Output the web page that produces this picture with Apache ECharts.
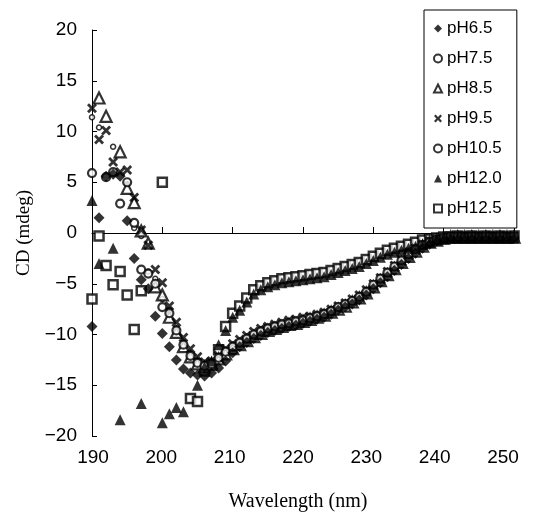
<!DOCTYPE html>
<html>
<head>
<meta charset="utf-8">
<script src="https://cdn.jsdelivr.net/npm/echarts@6/dist/echarts.min.js"></script>
<style>html,body{margin:0;padding:0;background:#fff;}#c{width:535px;height:517px;}</style>
</head>
<body>
<div id="c"></div>
<script>
// Wavelength (nm), 1 nm steps
const wavelengths = [
  190,191,192,193,194,195,196,197,198,199,
  200,201,202,203,204,205,206,207,208,209,
  210,211,212,213,214,215,216,217,218,219,
  220,221,222,223,224,225,226,227,228,229,
  230,231,232,233,234,235,236,237,238,239,
  240,241,242,243,244,245,246,247,248,249,
  250
];
const seriesNames = ['pH6.5','pH7.5','pH8.5','pH9.5','pH10.5','pH12.0','pH12.5'];
const yTicks = [-20,-15,-10,-5,0,5,10,15,20];
const xTicks = [190,200,210,220,230,240,250];

const ph65 = [
  -9.2,1.5,5.6,5.8,5.6,1.2,-2.5,-4.6,-5.5,-8.2,
  -9.9,-11.2,-12.5,-13.4,-13.8,-14.0,-14.1,-13.8,-13.3,-12.6,
  -11.8,-11.2,-10.8,-10.4,-10.1,-9.8,-9.6,-9.4,-9.2,-9.1,
  -8.9,-8.7,-8.5,-8.3,-8.0,-7.6,-7.3,-7.0,-6.6,-6.1,
  -5.5,-4.9,-4.3,-3.7,-3.1,-2.5,-2.0,-1.5,-1.1,-0.8,
  -0.6,-0.5,-0.5,-0.4,-0.5,-0.4,-0.5,-0.4,-0.5,-0.4,
  -0.5
];
const ph75 = [
  11.4,10.4,null,8.5,null,4.8,0.5,-0.3,-3.8,-4.5,
  -6.5,-7.6,-9.4,-10.8,-11.9,-12.6,-13.0,-12.8,-12.2,-11.6,
  -11.1,-10.7,-10.3,-9.9,-9.6,-9.3,-9.1,-8.9,-8.8,-8.6,
  -8.5,-8.3,-8.1,-7.9,-7.6,-7.2,-6.9,-6.6,-6.2,-5.7,
  -5.0,-4.4,-3.8,-3.2,-2.6,-2.0,-1.5,-1.1,-0.8,-0.6,
  -0.5,-0.4,-0.4,-0.3,-0.3,-0.3,-0.3,-0.3,-0.3,-0.3,
  -0.3
];
const ph85 = [
  null,13.3,11.5,null,8.0,4.4,3.0,0.2,-1.0,-5.3,
  -6.1,-8.3,-9.8,-11.2,-12.2,-12.9,-13.2,-12.9,-12.4,-11.9,
  -11.4,-11.0,-10.6,-10.2,-9.9,-9.6,-9.4,-9.2,-9.0,-8.9,
  -8.7,-8.5,-8.3,-8.1,-7.8,-7.5,-7.2,-6.8,-6.4,-5.9,
  -5.3,-4.7,-4.1,-3.5,-2.9,-2.3,-1.8,-1.3,-0.9,-0.7,
  -0.5,-0.4,-0.4,-0.4,-0.4,-0.4,-0.4,-0.4,-0.4,-0.4,
  -0.4
];
const ph95 = [
  12.3,9.2,10.1,7.0,6.0,6.2,3.5,0.3,-1.2,-3.6,
  -4.9,-7.2,-8.8,-10.3,-11.4,-12.2,-12.7,-12.6,-12.1,-11.4,
  -10.9,-10.5,-10.1,-9.7,-9.4,-9.2,-9.0,-8.8,-8.6,-8.5,
  -8.3,-8.2,-8.0,-7.8,-7.5,-7.2,-6.9,-6.5,-6.1,-5.6,
  -5.0,-4.4,-3.8,-3.2,-2.6,-2.0,-1.5,-1.1,-0.8,-0.6,
  -0.5,-0.4,-0.3,-0.4,-0.3,-0.4,-0.3,-0.4,-0.3,-0.4,
  -0.3
];
const ph105 = [
  5.9,null,5.5,6.0,2.9,5.0,1.0,-3.6,-4.0,-5.0,
  -7.3,-7.9,-9.6,-11.0,-12.1,-12.8,-13.1,-12.9,-12.3,-11.7,
  -11.2,-10.8,-10.4,-10.0,-9.7,-9.4,-9.2,-9.0,-8.9,-8.7,
  -8.6,-8.4,-8.2,-8.0,-7.7,-7.3,-7.0,-6.7,-6.3,-5.8,
  -5.1,-4.5,-3.9,-3.3,-2.7,-2.1,-1.6,-1.2,-0.9,-0.7,
  -0.5,-0.4,-0.4,-0.4,-0.4,-0.4,-0.4,-0.4,-0.4,-0.4,
  -0.4
];
const ph120 = [
  3.2,-3.0,null,-1.5,-18.4,null,null,-16.8,null,null,
  -18.7,-17.8,-17.2,-17.6,null,-15.0,-13.2,-12.6,-11.0,-9.6,
  -8.3,-7.6,-6.8,-6.0,-5.6,-5.3,-5.1,-4.9,-4.8,-4.7,
  -4.6,-4.5,-4.4,-4.3,-4.1,-3.9,-3.7,-3.5,-3.3,-3.0,
  -2.7,-2.4,-2.1,-1.9,-1.7,-1.5,-1.3,-1.1,-0.9,-0.7,
  -0.6,-0.5,-0.5,-0.5,-0.5,-0.5,-0.5,-0.5,-0.5,-0.5,
  -0.5
];
const ph125 = [
  -6.5,-0.3,-3.2,-5.1,-3.8,-6.1,-9.5,-5.7,null,null,
  5.0,null,null,null,-16.3,-16.6,-13.6,-13.0,-11.5,-9.2,
  -7.9,-7.2,-6.4,-5.6,-5.2,-4.9,-4.7,-4.5,-4.4,-4.3,
  -4.2,-4.1,-4.0,-3.9,-3.7,-3.5,-3.3,-3.1,-2.9,-2.6,
  -2.3,-2.0,-1.7,-1.5,-1.3,-1.1,-0.9,-0.7,-0.6,-0.5,
  -0.4,-0.4,-0.3,-0.4,-0.3,-0.4,-0.3,-0.4,-0.3,-0.4,
  -0.3
];

const values = [ph65, ph75, ph85, ph95, ph105, ph120, ph125];

const crossPath = 'path://M0,2L2,0L5,3L8,0L10,2L7,5L10,8L8,10L5,7L2,10L0,8L3,5Z';
const filled = {color:'#000', borderColor:'#000', borderWidth:0};
const open = {color:'#fff', borderColor:'#000', borderWidth:2.2};
const markerStyles = [
  {symbol:'diamond', size:11, style:filled, z:4},
  {symbol:'circle', size:5, style:{color:'#fff', borderColor:'#000', borderWidth:1.5}, z:3},
  {symbol:'triangle', size:11, style:open, z:3},
  {symbol:crossPath, size:10, style:filled, z:3},
  {symbol:'circle', size:8, style:open, z:3},
  {symbol:'triangle', size:11, style:filled, z:3},
  {symbol:'rect', size:9, style:{color:'#fff', borderColor:'#000', borderWidth:2.5}, z:2}
];

function pairs(vals){
  const out = [];
  for (let i = 0; i < wavelengths.length; i++) {
    if (vals[i] !== null) out.push([wavelengths[i], vals[i]]);
  }
  return out;
}

const series = seriesNames.map((name, k) => ({
  name: name,
  type: 'scatter',
  xAxisIndex: 0,
  yAxisIndex: 0,
  z: markerStyles[k].z,
  symbol: markerStyles[k].symbol,
  symbolSize: markerStyles[k].size,
  itemStyle: markerStyles[k].style,
  data: pairs(values[k]),
  animation: false,
  emphasis: {disabled: true}
}));

const sans = '"Liberation Sans", Arial, sans-serif';
const serif = '"Liberation Serif", "Times New Roman", serif';

const chart = echarts.init(document.getElementById('c'), null, {renderer:'canvas'});
chart.setOption({
  backgroundColor: '#fff',
  animation: false,
  grid: [
    {left: 92, right: 21, top: 30, bottom: 81},
    {left: 93, right: 32, top: 30, bottom: 81}
  ],
  xAxis: [
    {
      gridIndex: 0, type: 'value', min: xTicks[0], max: xTicks[xTicks.length-1], interval: 10,
      axisLine: {show: true, onZero: true, lineStyle: {color: '#000', width: 1}},
      axisTick: {show: true, inside: true, length: 6, lineStyle: {color: '#000'}},
      axisLabel: {show: false},
      splitLine: {show: false}
    },
    {
      gridIndex: 1, type: 'value', min: xTicks[0], max: xTicks[xTicks.length-1], interval: 10,
      axisLine: {show: false, onZero: false},
      axisTick: {show: false},
      splitLine: {show: false},
      axisLabel: {color: '#000', fontSize: 19, fontFamily: sans, margin: 19},
      name: 'Wavelength (nm)', nameLocation: 'middle', nameGap: 63,
      nameTextStyle: {color: '#000', fontSize: 20, fontFamily: serif}
    }
  ],
  yAxis: [
    {
      gridIndex: 0, type: 'value', min: yTicks[0], max: yTicks[yTicks.length-1], interval: 5,
      axisLine: {show: true, onZero: false, lineStyle: {color: '#000', width: 1}},
      axisTick: {show: true, inside: true, length: 5, lineStyle: {color: '#000'}},
      splitLine: {show: false},
      axisLabel: {color: '#000', fontSize: 19, fontFamily: sans, margin: 15,
        formatter: v => String(v).replace('-', '\u2212')},
      name: 'CD (mdeg)', nameLocation: 'middle', nameGap: 57,
      nameTextStyle: {color: '#000', fontSize: 19, fontFamily: serif}
    },
    {
      gridIndex: 1, type: 'value', min: yTicks[0], max: yTicks[yTicks.length-1], show: false
    }
  ],
  legend: {
    orient: 'vertical',
    left: 424, top: 10,
    data: seriesNames,
    itemWidth: 8, itemHeight: 8,
    itemGap: 13,
    padding: [10, 15, 11, 9],
    borderColor: '#000', borderWidth: 1,
    backgroundColor: '#fff',
    textStyle: {color: '#000', fontSize: 17, fontFamily: sans, lineHeight: 17},
    selectedMode: false
  },
  series: series
});
</script>
</body>
</html>
